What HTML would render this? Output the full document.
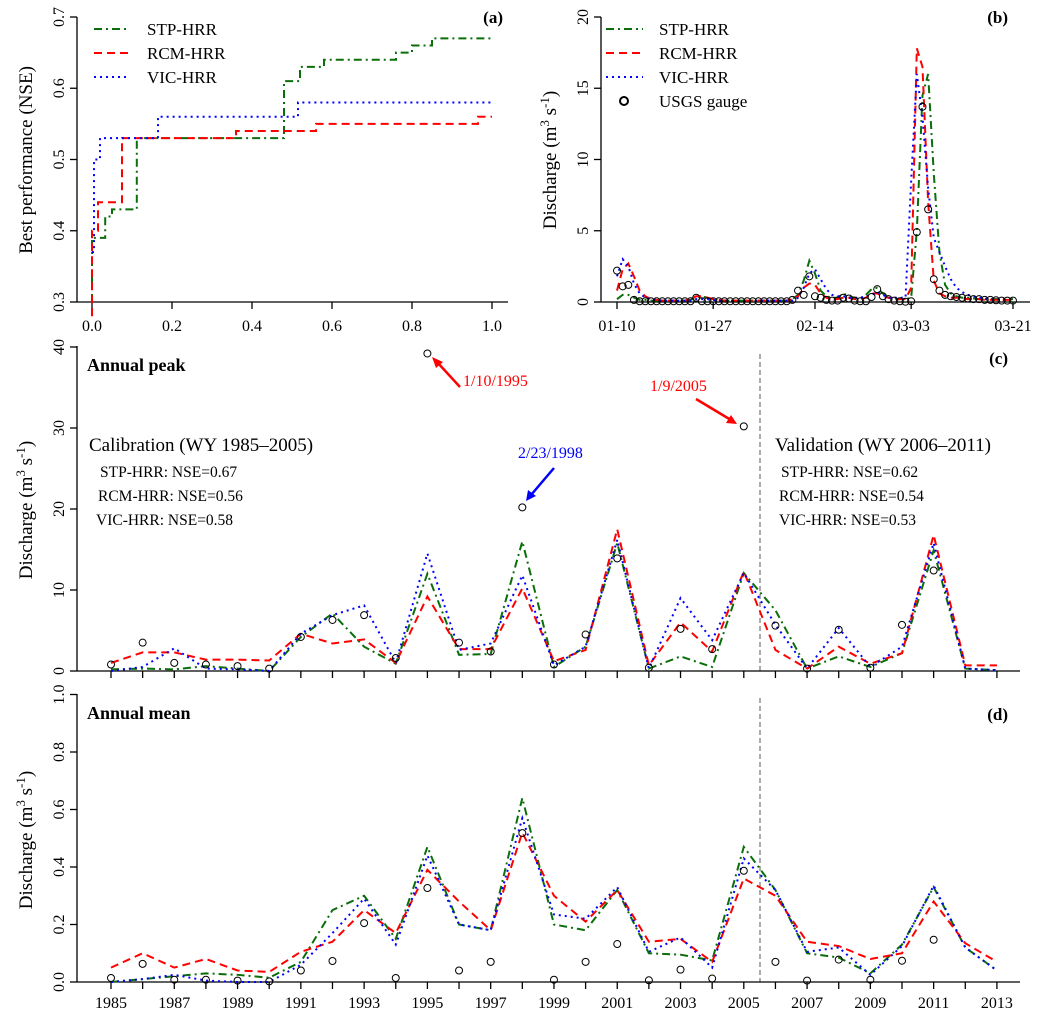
<!DOCTYPE html>
<html><head><meta charset="utf-8">
<style>
html,body{margin:0;padding:0;background:#fff;}
svg{display:block;font-family:"Liberation Serif",serif;}
svg text{font-family:"Liberation Serif",serif;}
</style></head>
<body>
<svg id="chart" width="1046" height="1020" viewBox="0 0 1046 1020" xmlns="http://www.w3.org/2000/svg" font-family="Liberation Serif, serif">
<g id="static" fill="#000">
  <text transform="translate(32,160) rotate(-90)" text-anchor="middle" font-size="19">Best performance (NSE)</text>
  <text transform="translate(556,160) rotate(-90)" text-anchor="middle" font-size="19">Discharge (m<tspan font-size="13" dy="-7">3</tspan><tspan dy="7"> s</tspan><tspan font-size="13" dy="-7">-1</tspan><tspan dy="7">)</tspan></text>
  <text transform="translate(32,510) rotate(-90)" text-anchor="middle" font-size="19">Discharge (m<tspan font-size="13" dy="-7">3</tspan><tspan dy="7"> s</tspan><tspan font-size="13" dy="-7">-1</tspan><tspan dy="7">)</tspan></text>
  <text transform="translate(32,840) rotate(-90)" text-anchor="middle" font-size="19">Discharge (m<tspan font-size="13" dy="-7">3</tspan><tspan dy="7"> s</tspan><tspan font-size="13" dy="-7">-1</tspan><tspan dy="7">)</tspan></text>
  <text x="503" y="23" text-anchor="end" font-size="17" font-weight="bold">(a)</text>
  <text x="1008" y="23" text-anchor="end" font-size="17" font-weight="bold">(b)</text>
  <text x="1008" y="364" text-anchor="end" font-size="17" font-weight="bold">(c)</text>
  <text x="1008" y="720" text-anchor="end" font-size="17" font-weight="bold">(d)</text>
  <text x="87" y="371" font-size="18" font-weight="bold">Annual peak</text>
  <text x="87" y="719" font-size="18" font-weight="bold">Annual mean</text>
  <text x="89" y="451" font-size="19">Calibration (WY 1985–2005)</text>
  <text x="100" y="477" font-size="15.5">STP-HRR: NSE=0.67</text>
  <text x="98" y="501" font-size="15.5">RCM-HRR: NSE=0.56</text>
  <text x="96" y="525" font-size="15.5">VIC-HRR: NSE=0.58</text>
  <text x="775" y="451" font-size="19">Validation (WY 2006–2011)</text>
  <text x="781" y="477" font-size="15.5">STP-HRR: NSE=0.62</text>
  <text x="779" y="501" font-size="15.5">RCM-HRR: NSE=0.54</text>
  <text x="779" y="525" font-size="15.5">VIC-HRR: NSE=0.53</text>
  <text x="463" y="386" font-size="16" fill="#ff0000">1/10/1995</text>
  <text x="650" y="391" font-size="16" fill="#ff0000">1/9/2005</text>
  <text x="518" y="458" font-size="16" fill="#0000ff">2/23/1998</text>
  <g stroke="#ff0000" stroke-width="2.5" fill="#ff0000">
    <line x1="460" y1="387" x2="437" y2="362"/><polygon points="432,357 443,362 436,368" stroke="none"/>
  </g>
  <g stroke="#ff0000" stroke-width="2.5" fill="#ff0000">
    <line x1="696" y1="399" x2="731" y2="420"/><polygon points="737,424 726,423 731,415" stroke="none"/>
  </g>
  <g stroke="#0000ff" stroke-width="2.5" fill="#0000ff">
    <line x1="554" y1="468" x2="531" y2="495"/><polygon points="526,501 528,490 536,496" stroke="none"/>
  </g>
  <g font-size="17">
    <line x1="94" y1="29" x2="130" y2="29" stroke="#0a6e0a" stroke-width="2" stroke-dasharray="8,4,2,4"/>
    <text x="147" y="35">STP-HRR</text>
    <line x1="94" y1="53" x2="130" y2="53" stroke="#ff0000" stroke-width="2" stroke-dasharray="8,5"/>
    <text x="147" y="59">RCM-HRR</text>
    <line x1="94" y1="77" x2="130" y2="77" stroke="#0000ff" stroke-width="2" stroke-dasharray="2,4"/>
    <text x="147" y="83">VIC-HRR</text>
  </g>
  <g font-size="17">
    <line x1="606" y1="29" x2="643" y2="29" stroke="#0a6e0a" stroke-width="2" stroke-dasharray="8,4,2,4"/>
    <text x="659" y="35">STP-HRR</text>
    <line x1="606" y1="53" x2="643" y2="53" stroke="#ff0000" stroke-width="2" stroke-dasharray="8,5"/>
    <text x="659" y="59">RCM-HRR</text>
    <line x1="606" y1="77" x2="643" y2="77" stroke="#0000ff" stroke-width="2" stroke-dasharray="2,4"/>
    <text x="659" y="83">VIC-HRR</text>
    <circle cx="624" cy="101" r="4" fill="none" stroke="#000" stroke-width="2"/>
    <text x="659" y="107">USGS gauge</text>
  </g>
  <line x1="760" y1="354" x2="760" y2="671" stroke="#555" stroke-width="1" stroke-dasharray="5,3"/>
  <line x1="760" y1="698" x2="760" y2="982" stroke="#555" stroke-width="1" stroke-dasharray="5,3"/>
</g>
<g id="dyn" font-family="Liberation Serif, serif"></g>
</svg>
<script>
const aStpX = [0, 0, 0.033, 0.05, 0.112, 0.48, 0.52, 0.58, 0.76, 0.80, 0.85, 1.0];
const aStpY = [0.30, 0.39, 0.42, 0.43, 0.53, 0.61, 0.63, 0.64, 0.65, 0.66, 0.67, 0.67];
const aRcmX = [0, 0, 0.015, 0.075, 0.36, 0.56, 0.965, 1.0];
const aRcmY = [0.28, 0.40, 0.44, 0.53, 0.54, 0.55, 0.56, 0.56];
const aVicX = [0, 0.005, 0.02, 0.165, 0.515, 1.0];
const aVicY = [0.37, 0.50, 0.53, 0.56, 0.58, 0.58];
const aXTicks = [0, 0.2, 0.4, 0.6, 0.8, 1.0];
const aXTickLabels = ["0.0","0.2","0.4","0.6","0.8","1.0"];
const aYTicks = [0.3, 0.4, 0.5, 0.6, 0.7];
const aYTickLabels = ["0.3","0.4","0.5","0.6","0.7"];

const bObs = [2.2,1.1,1.2,0.15,0.05,0.05,0.05,0.05,0.05,0.05,0.05,0.05,0.05,0.05,0.3,0.05,0.05,0.05,0.05,0.05,0.05,0.05,0.05,0.05,0.05,0.05,0.05,0.05,0.05,0.05,0.05,0.15,0.8,0.5,1.8,0.4,0.3,0.15,0.1,0.1,0.3,0.25,0.1,0.05,0.05,0.35,0.9,0.4,0.2,0.1,0.05,0.02,0.05,4.9,13.7,6.5,1.6,0.8,0.5,0.4,0.35,0.3,0.25,0.2,0.2,0.15,0.15,0.12,0.1,0.1,0.1];
const bStp = [0.2,0.5,0.5,0.3,0.15,0.15,0.1,0.1,0.1,0.1,0.1,0.1,0.1,0.15,0.3,0.4,0.3,0.2,0.15,0.1,0.1,0.1,0.1,0.1,0.1,0.1,0.1,0.1,0.1,0.1,0.1,0.2,0.5,1.5,2.9,2.0,0.8,0.4,0.3,0.3,0.6,0.4,0.3,0.2,0.5,0.9,1.0,0.6,0.3,0.2,0.2,0.2,0.3,5.0,14.5,16.0,9.0,3.5,1.2,0.6,0.4,0.3,0.3,0.25,0.2,0.2,0.2,0.2,0.2,0.2,0.2];
const bRcm = [0.8,2.3,2.7,1.8,0.8,0.4,0.2,0.15,0.1,0.1,0.1,0.1,0.1,0.2,0.4,0.4,0.3,0.2,0.15,0.1,0.1,0.1,0.1,0.1,0.1,0.1,0.1,0.1,0.1,0.1,0.1,0.2,0.4,1.0,1.3,1.2,0.6,0.3,0.2,0.2,0.3,0.3,0.2,0.2,0.3,0.6,0.6,0.4,0.3,0.2,0.2,0.2,1.0,17.8,16.5,7.0,1.5,0.6,0.4,0.3,0.3,0.25,0.2,0.2,0.2,0.15,0.15,0.15,0.15,0.15,0.15];
const bVic = [1.8,3.0,2.5,1.3,0.6,0.3,0.2,0.15,0.1,0.1,0.1,0.1,0.1,0.1,0.2,0.2,0.2,0.15,0.1,0.1,0.1,0.1,0.1,0.1,0.1,0.1,0.1,0.1,0.1,0.1,0.1,0.1,0.3,1.0,2.0,2.3,1.6,0.9,0.5,0.4,0.4,0.3,0.3,0.3,0.4,0.5,0.7,0.5,0.3,0.3,0.3,0.3,8.5,16.0,13.0,8.0,4.5,3.5,2.5,1.6,1.0,0.7,0.5,0.4,0.3,0.25,0.2,0.2,0.2,0.2,0.2];
const bXTicks = [0, 17, 35, 52, 70];
const bXTickLabels = ["01-10","01-27","02-14","03-03","03-21"];
const bYTicks = [0, 5, 10, 15, 20];
const bYTickLabels = ["0","5","10","15","20"];

const years = [1985,1986,1987,1988,1989,1990,1991,1992,1993,1994,1995,1996,1997,1998,1999,2000,2001,2002,2003,2004,2005,2006,2007,2008,2009,2010,2011,2012,2013];
const peakStp = [0.2,0.3,0.2,0.6,0.3,0.0,4.2,7.1,3.0,0.9,12.0,2.0,2.1,16.0,0.5,3.0,15.8,0.3,1.8,0.5,12.1,7.5,0.3,1.8,0.5,2.2,14.9,0.3,0.1];
const peakRcm = [1.0,2.3,2.3,1.4,1.4,1.3,4.6,3.4,3.9,1.0,9.2,2.7,2.7,10.2,1.2,2.6,17.5,0.7,6.0,2.4,12.3,2.6,0.3,3.0,0.9,2.2,16.8,0.7,0.7];
const peakVic = [0.0,0.5,2.8,0.3,0.2,0.0,4.6,6.9,8.1,1.0,14.5,2.6,3.4,11.8,0.7,3.0,16.2,0.3,9.0,3.8,12.1,5.7,0.3,5.3,0.5,3.0,15.8,0.3,0.1];
const peakObs = [0.8,3.5,1.0,0.8,0.6,0.3,4.2,6.3,6.9,1.6,39.2,3.5,2.4,20.2,0.8,4.5,13.9,0.4,5.2,2.7,30.2,5.6,0.3,5.1,0.4,5.7,12.4,null,null];
const meanStp = [0.0,0.01,0.02,0.03,0.025,0.015,0.07,0.25,0.30,0.15,0.47,0.20,0.18,0.64,0.20,0.18,0.32,0.10,0.095,0.075,0.47,0.32,0.10,0.085,0.03,0.13,0.33,0.12,0.04];
const meanRcm = [0.05,0.10,0.05,0.08,0.04,0.035,0.105,0.14,0.25,0.17,0.39,0.28,0.18,0.52,0.30,0.21,0.32,0.14,0.15,0.07,0.36,0.30,0.14,0.125,0.08,0.10,0.28,0.135,0.07];
const meanVic = [0.0,0.01,0.025,0.005,0.0,0.0,0.06,0.17,0.29,0.13,0.44,0.20,0.18,0.57,0.235,0.22,0.33,0.105,0.155,0.05,0.43,0.32,0.105,0.12,0.025,0.125,0.335,0.12,0.04];
const meanObs = [0.014,0.063,0.008,0.008,0.005,0.002,0.04,0.073,0.205,0.014,0.327,0.04,0.07,0.518,0.008,0.07,0.132,0.006,0.043,0.012,0.387,0.07,0.005,0.078,0.008,0.074,0.147,null,null];
const cYTicks = [0, 10, 20, 30, 40];
const cYTickLabels = ["0","10","20","30","40"];
const dYTicks = [0, 0.2, 0.4, 0.6, 0.8, 1.0];
const dYTickLabels = ["0.0","0.2","0.4","0.6","0.8","1.0"];

const NS = "http://www.w3.org/2000/svg";
const root = document.getElementById("dyn");
const FONT = '"Liberation Serif", serif';
function mk(tag, attrs, parent) {
  const e = document.createElementNS(NS, tag);
  for (const k in attrs) e.setAttribute(k, attrs[k]);
  (parent || root).appendChild(e);
  return e;
}
const STY = {
  stp: {stroke:"#0a6e0a", dash:"8,4,2,4"},
  rcm: {stroke:"#ff0000", dash:"8,5"},
  vic: {stroke:"#0000ff", dash:"2,4"}
};

const axA = {x:v => 92 + v*400, y:v => 302 - (v-0.3)/0.4*285};
const axB = {x:d => 617 + d*5.657, y:v => 302 - v/20*285};
const axC = {x:i => 111 + i*31.64, y:v => 671 - v*8.1};
const axD = {x:i => 111 + i*31.64, y:v => 982 - v*287.5};

function yAxis(name, x, y0, y1, ticks, labels, fy) {
  const g = mk("g", {});
  
  
  mk("line", {x1:x, y1:y0, x2:x, y2:y1, stroke:"#000", "stroke-width":1.3}, g);
  ticks.forEach((t, i) => {
    const y = fy(t);
    mk("line", {x1:x-7, y1:y, x2:x, y2:y, stroke:"#000", "stroke-width":1.3}, g);
    const tx = mk("text", {transform:`translate(${x-13},${y}) rotate(-90)`, "text-anchor":"middle", "font-size":16}, g);
    tx.style.fontFamily = FONT;
    tx.textContent = labels[i];
  });
}
function xAxis(name, y, x0, x1, ticks, labels, fx, ly) {
  const g = mk("g", {});
  
  
  mk("line", {x1:x0, y1:y, x2:x1, y2:y, stroke:"#000", "stroke-width":1.3}, g);
  ticks.forEach((t, i) => {
    const x = fx(t);
    mk("line", {x1:x, y1:y, x2:x, y2:y+7, stroke:"#000", "stroke-width":1.3}, g);
    if (labels && labels[i] !== "") {
      const tx = mk("text", {x:x, y:ly, "text-anchor":"middle", "font-size":16}, g);
      tx.style.fontFamily = FONT;
      tx.textContent = labels[i];
    }
  });
}
function line(name, xs, ys, ax, sty, step) {
  let d = "";
  xs.forEach((xv, i) => {
    const X = ax.x(xv), Y = ax.y(ys[i]);
    if (i === 0) d += `M${X},${Y}`;
    else if (step) d += `H${X}V${Y}`;
    else d += `L${X},${Y}`;
  });
  const p = mk("path", {d:d, fill:"none", stroke:sty.stroke, "stroke-width":2, "stroke-dasharray":sty.dash});
  
  
}
function points(name, xs, ys, ax) {
  const g = mk("g", {});
  
  
  ys.forEach((v, i) => {
    if (v === null) return;
    const c = mk("circle", {cx:ax.x(xs[i]), cy:ax.y(v), r:3.5, fill:"none", stroke:"#000", "stroke-width":1}, g);
    
    
  });
}

yAxis("panel-a-y-axis", 77, 17, 302, aYTicks, aYTickLabels, axA.y);
xAxis("panel-a-x-axis", 302, 77, 508, aXTicks, aXTickLabels, axA.x, 331);
line("panel-a-stp-line", aStpX, aStpY, axA, STY.stp, true);
line("panel-a-rcm-line", aRcmX, aRcmY, axA, STY.rcm, true);
line("panel-a-vic-line", aVicX, aVicY, axA, STY.vic, true);

const days = bObs.map((_, i) => i);
yAxis("panel-b-y-axis", 601, 17, 302, bYTicks, bYTickLabels, axB.y);
xAxis("panel-b-x-axis", 302, 601, 1030, bXTicks, bXTickLabels, axB.x, 331);
line("panel-b-stp-line", days, bStp, axB, STY.stp, false);
line("panel-b-rcm-line", days, bRcm, axB, STY.rcm, false);
line("panel-b-vic-line", days, bVic, axB, STY.vic, false);
points("panel-b-usgs-points", days, bObs, axB);

const yi = years.map((_, i) => i);
const yearLabels = years.map((y, i) => i % 2 === 0 ? String(y) : "");
yAxis("panel-c-y-axis", 77, 346, 671, cYTicks, cYTickLabels, axC.y);
xAxis("panel-c-x-axis", 671, 77, 1020, yi, null, axC.x, 0);
line("panel-c-stp-line", yi, peakStp, axC, STY.stp, false);
line("panel-c-rcm-line", yi, peakRcm, axC, STY.rcm, false);
line("panel-c-vic-line", yi, peakVic, axC, STY.vic, false);
points("panel-c-usgs-points", yi, peakObs, axC);

yAxis("panel-d-y-axis", 77, 694, 982, dYTicks, dYTickLabels, axD.y);
xAxis("panel-d-x-axis", 982, 77, 1020, yi, yearLabels, axD.x, 1008);
line("panel-d-stp-line", yi, meanStp, axD, STY.stp, false);
line("panel-d-rcm-line", yi, meanRcm, axD, STY.rcm, false);
line("panel-d-vic-line", yi, meanVic, axD, STY.vic, false);
points("panel-d-usgs-points", yi, meanObs, axD);
</script>
</body></html>
